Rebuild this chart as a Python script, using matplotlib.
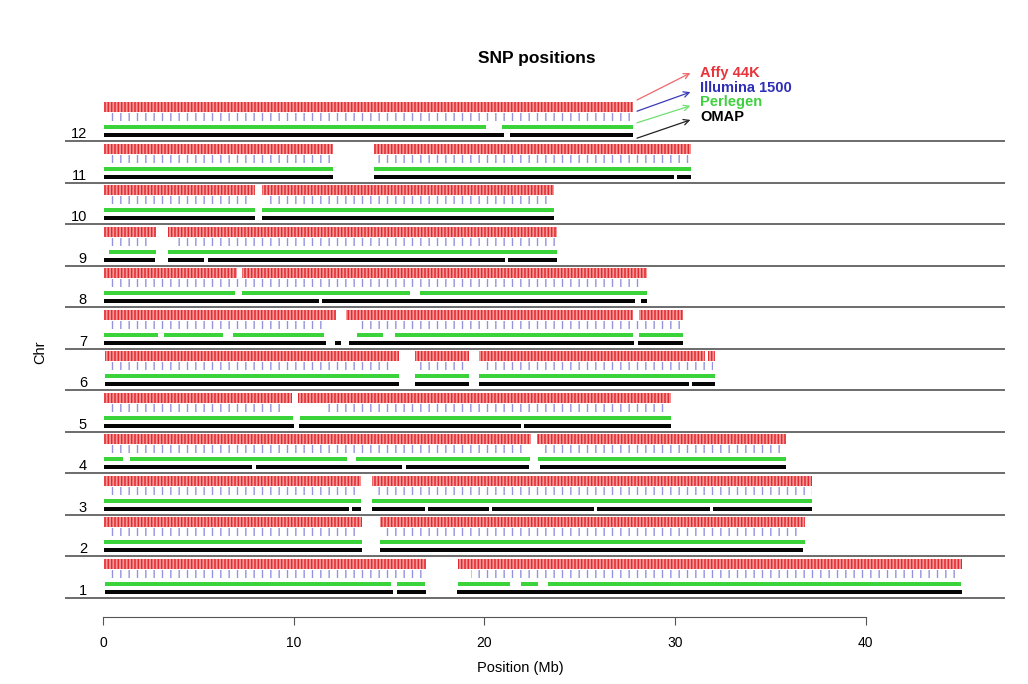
import matplotlib
matplotlib.use('Agg')
import matplotlib.pyplot as plt
from matplotlib.patches import Rectangle

plt.rcParams['font.family'] = ['Liberation Sans', 'DejaVu Sans']

# chromosome numbers, bottom to top
chromosomes = [1, 2, 3, 4, 5, 6, 7, 8, 9, 10, 11, 12]

# covered stretches (Mb) per platform, one list per chromosome (1..12)
affy_segments = [
    [(0.05, 16.95), (18.6, 45.05)],
    [(0.05, 13.6), (14.5, 36.8)],
    [(0.05, 13.5), (14.1, 37.2)],
    [(0.05, 22.45), (22.75, 35.8)],
    [(0.05, 9.9), (10.2, 29.8)],
    [(0.1, 15.5), (16.35, 19.2), (19.7, 31.55), (31.7, 32.1)],
    [(0.05, 12.2), (12.75, 27.8), (28.1, 30.4)],
    [(0.05, 7.0), (7.3, 28.5)],
    [(0.05, 2.75), (3.4, 23.8)],
    [(0.05, 7.95), (8.35, 23.65)],
    [(0.05, 12.05), (14.2, 30.85)],
    [(0.05, 27.8)],
]
illumina_segments = [
    [(0.1, 16.7), (19.3, 45.0)],
    [(0.3, 13.4), (14.8, 36.6)],
    [(0.2, 13.3), (14.2, 37.2)],
    [(0.2, 22.3), (22.9, 35.8)],
    [(0.2, 9.6), (11.5, 29.7)],
    [(0.3, 15.3), (16.4, 19.0), (19.9, 32.0)],
    [(0.1, 11.8), (13.2, 30.4)],
    [(0.2, 28.3)],
    [(0.2, 2.6), (3.6, 23.8)],
    [(0.1, 7.8), (8.5, 23.6)],
    [(0.1, 11.9), (14.3, 30.8)],
    [(0.1, 27.8)],
]
perlegen_segments = [
    [(0.1, 15.1), (15.4, 16.9), (18.6, 21.35), (21.9, 22.8), (23.35, 45.0)],
    [(0.05, 13.6), (14.5, 36.8)],
    [(0.05, 13.5), (14.1, 37.2)],
    [(0.05, 1.05), (1.4, 12.8), (13.25, 22.4), (22.8, 35.8)],
    [(0.05, 9.95), (10.3, 29.8)],
    [(0.1, 15.5), (16.35, 19.2), (19.7, 32.1)],
    [(0.05, 2.9), (3.2, 6.3), (6.8, 11.6), (13.3, 14.7), (15.3, 27.8), (28.1, 30.4)],
    [(0.05, 6.9), (7.3, 16.1), (16.6, 28.5)],
    [(0.3, 2.75), (3.4, 23.8)],
    [(0.05, 7.95), (8.35, 23.65)],
    [(0.05, 12.05), (14.2, 30.85)],
    [(0.05, 20.1), (20.9, 27.8)],
]
omap_segments = [
    [(0.1, 15.2), (15.4, 16.95), (18.55, 45.05)],
    [(0.05, 13.6), (14.5, 36.7)],
    [(0.05, 12.9), (13.05, 13.5), (14.1, 16.9), (17.05, 20.25), (20.4, 25.75),
     (25.9, 31.85), (32.0, 37.2)],
    [(0.05, 7.8), (8.0, 15.7), (15.9, 22.35), (22.9, 35.8)],
    [(0.05, 10.0), (10.25, 21.9), (22.05, 29.8)],
    [(0.1, 15.5), (16.35, 19.2), (19.7, 30.75), (30.9, 32.1)],
    [(0.05, 11.7), (12.15, 12.5), (12.9, 27.85), (28.05, 30.4)],
    [(0.05, 11.3), (11.5, 27.9), (28.2, 28.5)],
    [(0.05, 2.7), (3.4, 5.3), (5.5, 21.1), (21.25, 23.8)],
    [(0.05, 7.95), (8.35, 23.65)],
    [(0.05, 12.05), (14.2, 29.95), (30.1, 30.85)],
    [(0.05, 21.0), (21.35, 27.8)],
]
platform_names = ['Affy 44K', 'Illumina 1500', 'Perlegen', 'OMAP']

# drawing style per track: (bottom, height, face, stripe colour, hatch, hatch lw)
tracks = [
    (affy_segments, 0.70, 0.24, '#f49a9a', '#e42a30', '|||||', 1.1),
    (illumina_segments, 0.49, 0.19, 'white', '#9494de', '||', 1.0),
    (perlegen_segments, 0.30, 0.09, '#3ad43a', '#3ad43a', None, 1.0),
    (omap_segments, 0.10, 0.10, '#050505', '#050505', None, 1.0),
]
label_colors = ['#e8343a', '#2e2eb8', '#3fd03f', 'black']
arrow_colors = ['#f06868', '#3a3ab8', '#6ee06e', '#222222']

fig = plt.figure(figsize=(10.28, 6.84), dpi=100)
ax = fig.add_axes([65 / 1028, 67 / 684, 940 / 1028, 517 / 684])

for segs, bottom, height, fc, hc, hatch, hlw in tracks:
    plt.rcParams['hatch.linewidth'] = hlw
    for i, chrom in enumerate(chromosomes):
        base = chrom - 1
        for start, end in segs[i]:
            ax.add_patch(Rectangle((start, base + bottom), end - start, height,
                                   facecolor=fc, edgecolor=hc, hatch=hatch, lw=0))

for chrom in chromosomes:
    ax.text(-0.85, chrom - 1 + 0.17, str(chrom), ha='right', va='center',
            fontsize=10.5)

ax.hlines(range(len(chromosomes)), -2.0, 47.3, color='#606060', lw=1.3)

# legend arrows from the end of chromosome 12 tracks
chr12_end = affy_segments[-1][-1][1]
tails = [12.0, 11.73, 11.45, 11.08]
heads = [12.65, 12.19, 11.86, 11.52]
text_y = [12.66, 12.3, 11.96, 11.6]
for name, col, acol, ty, hy, tyy in zip(platform_names, label_colors, arrow_colors,
                                        tails, heads, text_y):
    ax.annotate('', xy=(30.8, hy), xytext=(chr12_end + 0.2, ty),
                arrowprops=dict(arrowstyle='->', color=acol, lw=0.9,
                                shrinkA=0, shrinkB=0),
                annotation_clip=False)
    ax.text(31.3, tyy, name, color=col, fontsize=10.5, fontweight='bold',
            va='center', ha='left', clip_on=False)

ax.set_xlim(-2.0, 47.3)
ax.set_ylim(-0.458, 12.0)
for s in ['top', 'right', 'left']:
    ax.spines[s].set_visible(False)
ax.spines['bottom'].set_bounds(0, 40)
ax.spines['bottom'].set_color('#555555')
ax.set_xticks([0, 10, 20, 30, 40])
ax.tick_params(axis='x', length=6, color='#555555', pad=8, labelsize=10)
ax.set_yticks([])

fig.text(537 / 1028, 1 - 58 / 684, 'SNP positions', ha='center', va='center',
         fontsize=12.5, fontweight='bold')
fig.text(520 / 1028, 1 - 668 / 684, 'Position (Mb)', ha='center', va='center',
         fontsize=10.5)
fig.text(40 / 1028, 1 - 352 / 684, 'Chr', ha='center', va='center',
         rotation=90, fontsize=10.5)

fig.savefig('out.png', dpi=100)
